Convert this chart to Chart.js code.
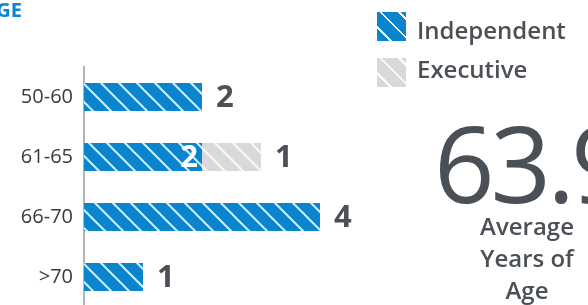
<!DOCTYPE html>
<html>
<head>
<meta charset="utf-8">
<script src="https://cdn.jsdelivr.net/npm/chart.js@4.4.0/dist/chart.umd.min.js"></script>
<style>
  html, body { margin: 0; padding: 0; background: #fff; }
  body { width: 588px; height: 305px; overflow: hidden; position: relative; font-family: 'Open Sans', sans-serif; }
  #wrap { position: absolute; left: 0; top: 0; width: 588px; height: 322px; }
  #title { position: absolute; right: calc(100% - 22px); top: -4px; font-size: 20px; font-weight: 700; color: #0a86cf; white-space: nowrap; }
  .box { position: absolute; left: 377px; width: 29px; height: 29px; }
  .legText { position: absolute; left: 417px; font-size: 24px; font-weight: 600; color: #4b5056; white-space: nowrap; line-height: 1; }
  #bigNum { position: absolute; left: 434px; top: 94px; font-size: 106px; font-weight: 400; letter-spacing: -4px; color: #4b5056; white-space: nowrap; line-height: 1.3; }
  #caption { position: absolute; left: 465px; width: 124px; top: 210px; text-align: center; font-size: 24px; font-weight: 600; color: #4b5056; line-height: 32px; }
</style>
</head>
<body>
<div id="wrap"><canvas id="chart" width="588" height="322"></canvas></div>
<div id="title">AGE</div>
<div id="legend"></div>
<div id="bigNum"></div>
<div id="caption">Average<br>Years of<br>Age</div>
<script>
const categories = ['50-60', '61-65', '66-70', '>70'];
const independent = [2, 2, 4, 1];
const executive = [0, 1, 0, 0];
const seriesNames = ['Independent', 'Executive'];
const averageAge = '63.9';

const blue = '#0a84cc';
const grey = '#d9d9d9';
const textGrey = '#4b5056';

function stripes(color) {
  const s = 18;
  const c = document.createElement('canvas');
  c.width = s; c.height = s;
  const g = c.getContext('2d');
  g.fillStyle = color;
  g.fillRect(0, 0, s, s);
  g.strokeStyle = 'rgba(255,255,255,0.85)';
  g.lineWidth = 2;
  for (let k = -1; k <= 1; k++) {
    g.beginPath();
    g.moveTo(-s, -s + k * s);
    g.lineTo(2 * s, 2 * s + k * s);
    g.stroke();
  }
  return g.createPattern(c, 'repeat');
}

// html legend
const legendDiv = document.getElementById('legend');
[[seriesNames[0], blue, 12, 18], [seriesNames[1], grey, 58, 57]].forEach(([name, col, top, textTop]) => {
  const box = document.createElement('div');
  box.className = 'box';
  box.style.top = top + 'px';
  box.style.background = `repeating-linear-gradient(45deg, ${col} 0 9px, rgba(255,255,255,0.85) 9px 11px, ${col} 11px 13px)`;
  legendDiv.appendChild(box);
  const t = document.createElement('div');
  t.className = 'legText';
  t.style.top = textTop + 'px';
  t.innerText = name;
  legendDiv.appendChild(t);
});
document.getElementById('bigNum').innerText = averageAge;

const valueLabels = {
  id: 'valueLabels',
  afterDatasetsDraw(chart) {
    const ctx = chart.ctx;
    ctx.save();
    ctx.font = '700 31px "Open Sans"';
    ctx.textBaseline = 'middle';
    chart.data.datasets.forEach((ds, di) => {
      const meta = chart.getDatasetMeta(di);
      meta.data.forEach((bar, i) => {
        const v = ds.data[i];
        if (!v) return;
        const inside = di === 0 && executive[i] > 0;
        if (inside) {
          ctx.fillStyle = '#fff';
          ctx.textAlign = 'right';
          ctx.fillText(v, bar.x - 4, bar.y + 1);
        } else {
          ctx.fillStyle = textGrey;
          ctx.textAlign = 'left';
          ctx.fillText(v, bar.x + 14, bar.y + 1);
        }
      });
    });
    ctx.restore();
  }
};

new Chart(document.getElementById('chart'), {
  type: 'bar',
  data: {
    labels: categories,
    datasets: [
      { label: seriesNames[0], data: independent, backgroundColor: stripes(blue), borderWidth: 0 },
      { label: seriesNames[1], data: executive, backgroundColor: stripes(grey), borderWidth: 0 }
    ]
  },
  options: {
    indexAxis: 'y',
    responsive: false,
    animation: false,
    layout: { padding: { top: 67, right: 150, bottom: 0, left: 0 } },
    datasets: { bar: { categoryPercentage: 1, barPercentage: 0.47 } },
    plugins: { legend: { display: false }, tooltip: { enabled: false } },
    scales: {
      x: { stacked: true, display: false, min: 0, max: 6 },
      y: {
        stacked: true,
        grid: { display: false },
        border: { display: true, color: '#b4b4b4', width: 2 },
        ticks: { padding: 3, color: '#3a3a3a', font: { family: 'Open Sans', size: 20 } },
        afterFit(scale) { scale.width = 84; }
      }
    }
  },
  plugins: [valueLabels]
});
</script>
</body>
</html>
